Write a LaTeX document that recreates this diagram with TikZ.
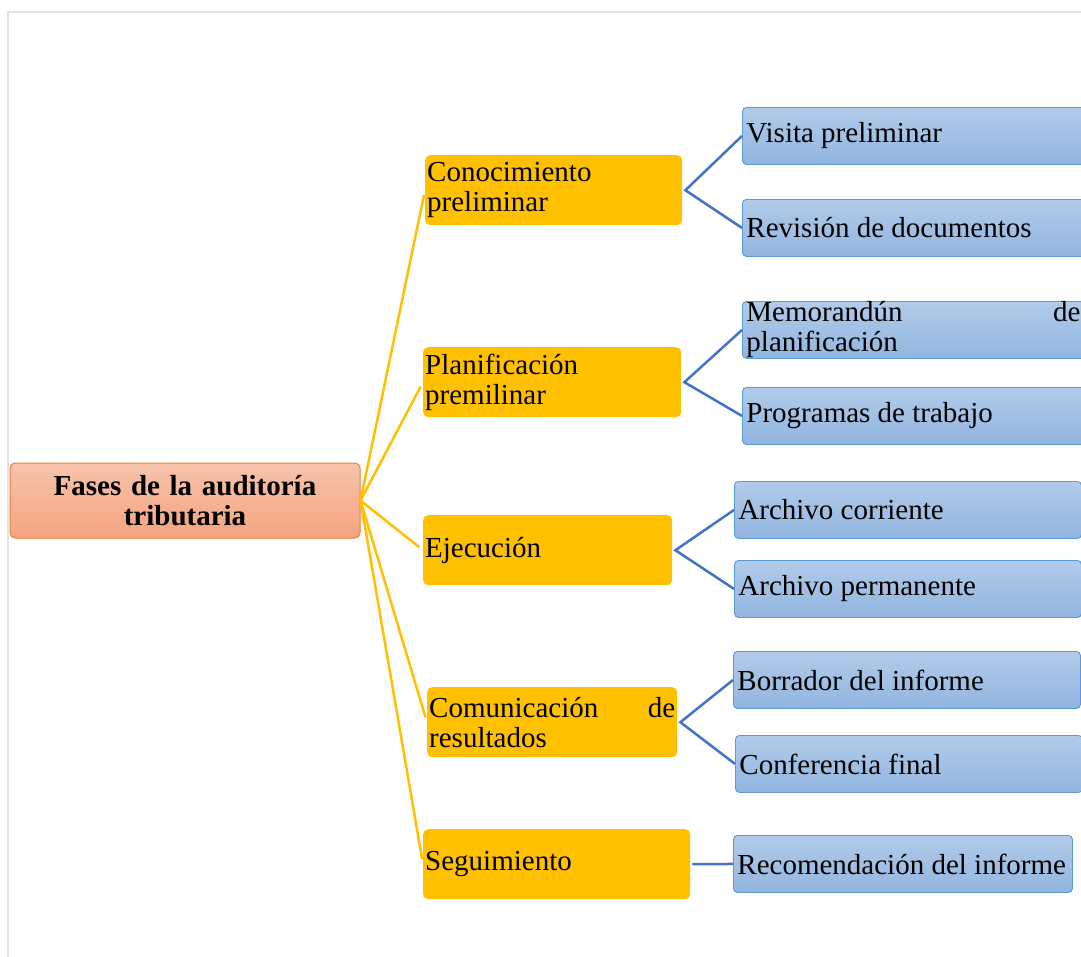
\documentclass[tikz,border=0pt]{standalone}
\usepackage{fontspec}
\setmainfont{Liberation Serif}
\definecolor{ygold}{HTML}{FFC000}
\definecolor{btop}{HTML}{B1CBE9}
\definecolor{bbot}{HTML}{92B5E0}
\definecolor{bborder}{HTML}{5B9BD5}
\definecolor{rtop}{HTML}{F7C3AC}
\definecolor{rbot}{HTML}{F4A47F}
\definecolor{rborder}{HTML}{ED7D31}
\definecolor{blink}{HTML}{4472C4}
\definecolor{frameline}{HTML}{E2E2E2}
\hyphenpenalty=10000
\exhyphenpenalty=10000
\tolerance=10000
% body text: interword spaces may stretch but never shrink
\newcommand{\bodyfont}{\fontsize{29}{30}\selectfont
  \spaceskip=\fontdimen2\font plus \fontdimen3\font\relax}
\begin{document}
\begin{tikzpicture}[x=1pt,y=-1pt,
  every node/.style={font=\bodyfont},
  rootbox/.style={draw=rborder, line width=1pt, rounded corners=5pt,
    top color=rtop, bottom color=rbot, minimum width=350pt, minimum height=75pt,
    text width=330pt, align=center, inner sep=0pt,
    font=\fontsize{29}{30}\selectfont\bfseries},
  phasebox/.style={fill=ygold, rounded corners=5pt, minimum height=70pt,
    text width=#1-4pt, inner xsep=2pt, inner ysep=0pt, align=justify, anchor=north west},
  itembox/.style={draw=bborder, line width=0.9pt, rounded corners=4pt,
    top color=btop, bottom color=bbot, minimum height=57pt,
    text width=#1-8pt, inner xsep=4pt, inner ysep=0pt, align=justify, anchor=north west},
  yline/.style={draw=ygold, line width=2.5pt},
  bline/.style={draw=blink, line width=2.5pt}]
\useasboundingbox (0,0) rectangle (1081,956);
\clip (0,0) rectangle (1081,956);

% page frame
\draw[frameline, line width=1.5pt] (8,960) -- (8,12) -- (1090,12);

% root
\node[rootbox] (root) at (185,500.5) {Fases de la auditoría\\tributaria};

% phases
\node[phasebox=257pt] (c1) at (425,155) {Conocimiento preliminar};
\node[phasebox=258pt] (c2) at (423,347) {Planificación premilinar};
\node[phasebox=249pt] (c3) at (423,515) {Ejecución};
\node[phasebox=250pt] (c4) at (427,687) {Comunicación de resultados};
\node[phasebox=267pt] (c5) at (423,829) {Seguimiento};

% activities
\node[itembox=347pt] (b1) at (742,107) {Visita preliminar};
\node[itembox=347pt] (b2) at (742,199) {Revisión de documentos};
\node[itembox=342pt] (b3) at (742,301) {Memorandún de\linebreak planificación};
\node[itembox=347pt] (b4) at (742,387) {Programas de trabajo};
\node[itembox=347pt] (b5) at (734,481) {Archivo corriente};
\node[itembox=347pt] (b6) at (734,560) {Archivo permanente};
\node[itembox=347pt] (b7) at (733,651) {Borrador del informe};
\node[itembox=347pt] (b8) at (735,735) {Conferencia final};
\node[itembox=339pt] (b9) at (733,835) {Recomendación del informe};

% root to phases
\foreach \p in {c1,c2,c3,c4,c5}
  \draw[yline, shorten >=5pt] (root.east) -- (\p.west);

% phases to activities
\coordinate (f1) at ([xshift=3pt]c1.east);
\coordinate (f2) at ([xshift=3pt]c2.east);
\coordinate (f3) at ([xshift=3pt]c3.east);
\coordinate (f4) at ([xshift=3pt]c4.east);
\draw[bline] (b1.west) -- (f1) -- (b2.west);
\draw[bline] (b3.west) -- (f2) -- (b4.west);
\draw[bline] (b5.west) -- (f3) -- (b6.west);
\draw[bline] (b7.west) -- (f4) -- (b8.west);
\draw[bline] ([xshift=2pt]c5.east) -- (b9.west);
\end{tikzpicture}
\end{document}
